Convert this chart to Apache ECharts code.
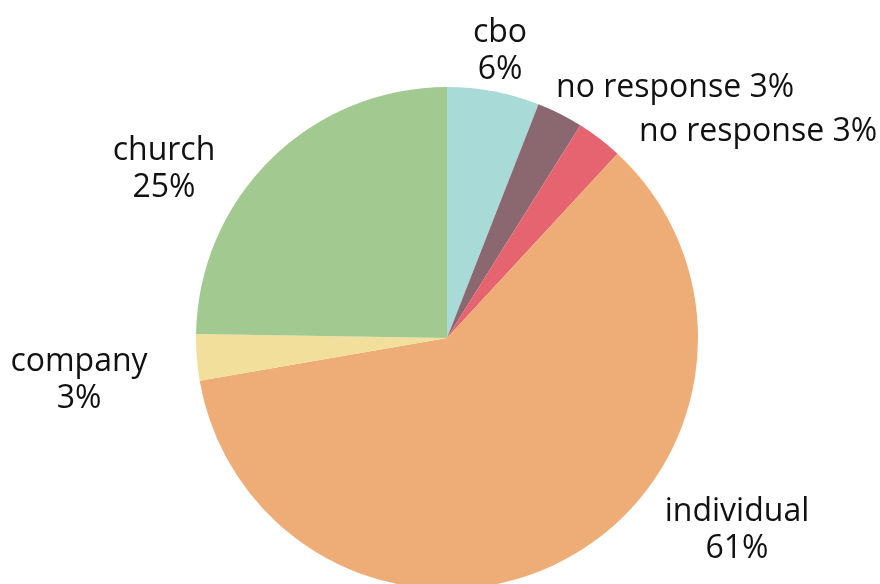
<!DOCTYPE html>
<html>
<head>
<meta charset="utf-8">
<script src="https://cdn.jsdelivr.net/npm/echarts@6/dist/echarts.min.js"></script>
<style>
  html, body { margin: 0; padding: 0; background: #ffffff; }
  #chart { width: 880px; height: 584px; }
</style>
</head>
<body>
<div id="chart"></div>
<script>
// Funding sources, shares in percent (clockwise from 12 o'clock)
const categories = ['cbo', 'no response', 'no response', 'individual', 'company', 'church'];
const shares = [6, 3, 3, 61, 3, 25];

// Slice colours, same order as the categories
const sliceColors = ['#a8dad7', '#8b6870', '#e6646f', '#eead77', '#f3df9c', '#a2c98f'];

// Where each label block sits (text centre, or left edge for single-line labels)
const labelSpots = [
  { x: 500, y: 51, align: 'center' },
  { x: 556, y: 88, align: 'left' },
  { x: 639, y: 132, align: 'left' },
  { x: 737, y: 530, align: 'center' },
  { x: 79, y: 380, align: 'center' },
  { x: 164, y: 169, align: 'center' }
];
const singleLine = [false, true, true, false, false, false];

const chart = echarts.init(document.getElementById('chart'), null, { renderer: 'canvas' });

chart.setOption({
  backgroundColor: '#ffffff',
  animation: false,
  series: [{
    type: 'pie',
    center: [447, 338],
    radius: 251,
    startAngle: 90,
    clockwise: true,
    avoidLabelOverlap: false,
    itemStyle: { borderWidth: 0 },
    label: {
      show: true,
      position: 'outside',
      fontFamily: '"Open Sans", "Noto Sans", sans-serif',
      fontSize: 32,
      lineHeight: 37,
      color: '#111111',
      align: 'center',
      formatter: function (p) {
        return singleLine[p.dataIndex] ? p.name + ' ' + p.value + '%' : p.name + '\n' + p.value + '%';
      }
    },
    labelLine: { show: false },
    labelLayout: function (params) {
      const s = labelSpots[params.dataIndex];
      return { x: s.x, y: s.y, align: s.align, verticalAlign: 'middle' };
    },
    data: categories.map(function (name, i) {
      return { name: name, value: shares[i], itemStyle: { color: sliceColors[i] } };
    })
  }]
});
</script>
</body>
</html>
